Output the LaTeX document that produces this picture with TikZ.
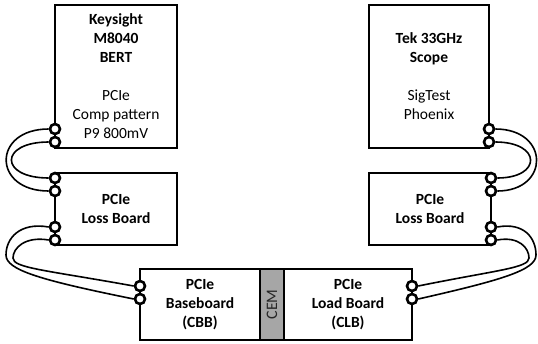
\documentclass[tikz,border=0pt]{standalone}
\usepackage{fontspec}
\setmainfont{Carlito}
\definecolor{cemgray}{HTML}{A6A6A6}

\begin{document}
\begin{tikzpicture}[x=1pt, y=-1pt,
    box/.style={draw, line width=2.2pt, inner sep=0pt, align=center, font=\fontsize{15.5}{19}\selectfont},
    port/.style={circle, draw, fill=white, line width=2.6pt, minimum size=10pt, inner sep=0pt},
    cable/.style={line width=1.6pt}]
  \useasboundingbox (0,0) rectangle (538,343);

  % instruments
  \node[box, minimum width=122pt, minimum height=143pt] (bert) at (116,76.5)
    {\textbf{Keysight}\\\textbf{M8040}\\\textbf{BERT}\\[19pt]PCIe\\Comp pattern\\P9 800mV};
  \node[box, minimum width=120pt, minimum height=143pt] (tek) at (429,76.5)
    {\textbf{Tek 33GHz}\\\textbf{Scope}\\[19pt]SigTest\\Phoenix};

  % loss boards
  \node[box, minimum width=122pt, minimum height=72pt] (lossL) at (116,209) {\textbf{PCIe}\\\textbf{Loss Board}};
  \node[box, minimum width=122pt, minimum height=72pt] (lossR) at (430,209) {\textbf{PCIe}\\\textbf{Loss Board}};

  % fixture
  \node[box, minimum width=120pt, minimum height=71pt] (cbb) at (200,304.5) {\textbf{PCIe}\\\textbf{Baseboard}\\\textbf{(CBB)}};
  \node[box, minimum width=128pt, minimum height=71pt] (clb) at (348,304.5) {\textbf{PCIe}\\\textbf{Load Board}\\\textbf{(CLB)}};
  \node[box, fill=cemgray, rotate=90, minimum width=71pt, minimum height=24pt, font=\fontsize{16}{19}\selectfont, text=black!85] (cem) at (272,304.5) {CEM};

  % ports
  \foreach \y/\n in {129/bertA, 142/bertB, 178/lossLa, 191/lossLb, 227/lossLc, 240/lossLd} {
      \node[port] (\n) at (55,\y) {};
  }
  \foreach \y/\n in {129/tekA, 142/tekB} {
      \node[port] (\n) at (489,\y) {};
  }
  \foreach \y/\n in {178/lossRa, 191/lossRb, 227/lossRc, 240/lossRd} {
      \node[port] (\n) at (491,\y) {};
  }
  \node[port] (cbbA) at (140,286) {};
  \node[port] (cbbB) at (140,299) {};
  \node[port] (clbA) at (412,286) {};
  \node[port] (clbB) at (412,299) {};

  % cables, left side
  \draw[cable] (bertA.west) .. controls (-8,129) and (-8,191) .. (lossLb.west);
  \draw[cable] (bertB.west) .. controls (-1,142) and (-1,178) .. (lossLa.west);
  \draw[cable] (lossLc.west) .. controls (20,222) and (6,238) .. (6,255)
                             .. controls (6,270) and (40,280) .. (cbbB.west);
  \draw[cable] (lossLd.west) .. controls (25,236) and (13,248) .. (13,258)
                             .. controls (13,268) and (45,270) .. (cbbA.west);

  % cables, right side
  \draw[cable] (tekA.east) .. controls (550,129) and (550,191) .. (lossRb.east);
  \draw[cable] (tekB.east) .. controls (542,142) and (542,178) .. (lossRa.east);
  \draw[cable] (lossRc.east) .. controls (524,222) and (536,238) .. (536,255)
                             .. controls (536,270) and (502,280) .. (clbB.east);
  \draw[cable] (lossRd.east) .. controls (519,236) and (529,248) .. (529,258)
                             .. controls (529,268) and (497,270) .. (clbA.east);
\end{tikzpicture}
\end{document}
